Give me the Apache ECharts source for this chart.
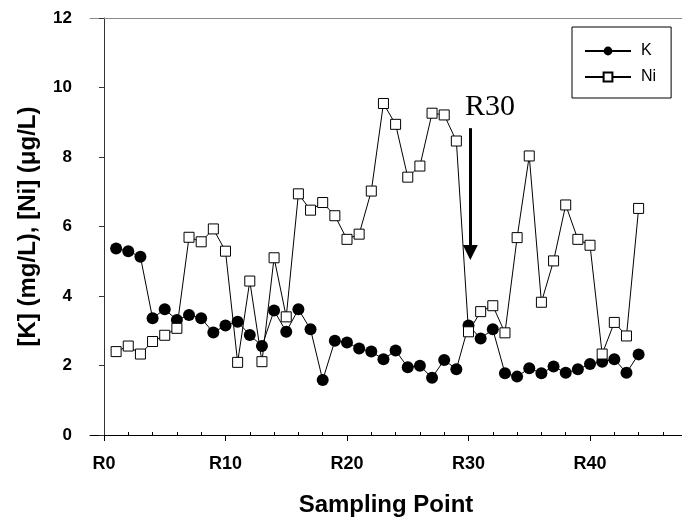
<!DOCTYPE html>
<html>
<head>
<meta charset="UTF-8">
<title>K and Ni by sampling point</title>
<script type="text/javascript" src="https://cdn.jsdelivr.net/npm/echarts@6/dist/echarts.min.js"></script>
<style type="text/css">
	html, body { margin: 0; padding: 0; background: #fff; }
	#chart { width: 682px; height: 517px; }
</style>
</head>
<body>
<div id="chart"></div>
<script type="text/javascript">
	// sampling points R1..R44
	var points = [1, 2, 3, 4, 5, 6, 7, 8, 9, 10, 11, 12, 13, 14, 15, 16, 17, 18, 19, 20, 21, 22,
		23, 24, 25, 26, 27, 28, 29, 30, 31, 32, 33, 34, 35, 36, 37, 38, 39, 40, 41, 42, 43, 44];
	// [K] mg/L
	var kValues = [5.37, 5.29, 5.13, 3.36, 3.62, 3.31, 3.45, 3.36, 2.95, 3.15, 3.26, 2.88, 2.56, 3.58, 2.97,
		3.62, 3.04, 1.58, 2.71, 2.66, 2.49, 2.40, 2.18, 2.43, 1.95, 1.99, 1.65, 2.16, 1.89, 3.15,
		2.78, 3.04, 1.78, 1.68, 1.92, 1.78, 1.97, 1.79, 1.89, 2.04, 2.11, 2.18, 1.79, 2.32];
	// [Ni] ug/L
	var niValues = [2.40, 2.56, 2.33, 2.69, 2.87, 3.07, 5.69, 5.56, 5.93, 5.29, 2.09, 4.43, 2.11, 5.10, 3.40,
		6.94, 6.47, 6.69, 6.31, 5.63, 5.78, 7.02, 9.54, 8.94, 7.42, 7.74, 9.26, 9.21, 8.46, 2.97,
		3.55, 3.72, 2.94, 5.68, 8.03, 3.82, 5.01, 6.62, 5.63, 5.46, 2.33, 3.24, 2.85, 6.52];
	var majorTicks = [0, 10, 20, 30, 40];
	var minorTicks = [2, 4, 6, 8, 12, 14, 16, 18, 22, 24, 26, 28, 32, 34, 36, 38, 42, 44, 46];
	var yTicks = [0, 2, 4, 6, 8, 10, 12];

	function pairs(xs, ys){
		var out = [];
		for(var i = 0; i < xs.length; i++){
			out.push([xs[i], ys[i]]);
		}
		return out;
	}

	var chart = echarts.init(document.getElementById('chart'));
	var option = {
		animation: false,
		backgroundColor: '#fff',
		textStyle: { fontFamily: 'Liberation Sans, Arial, sans-serif', color: '#000' },
		grid: { left: 90, right: 0, top: 18, bottom: 82, outerBoundsMode: 'none' },
		legend: {
			orient: 'vertical',
			left: 572,
			top: 27,
			padding: [16, 15, 13, 12],
			backgroundColor: '#fff',
			borderColor: '#000',
			borderWidth: 1,
			borderRadius: 0,
			itemWidth: 46,
			itemHeight: 11,
			itemGap: 10,
			textStyle: { fontSize: 16, color: '#000', padding: [0, 0, 0, 5] },
			data: ['K', 'Ni']
		},
		xAxis: [{
			type: 'value',
			min: -1.15,
			max: 47.57,
			position: 'bottom',
			name: 'Sampling Point',
			nameLocation: 'middle',
			nameGap: 58,
			nameTextStyle: { fontSize: 24, fontWeight: 'bold', color: '#000' },
			axisLine: { show: true, onZero: false, lineStyle: { color: '#000', width: 1 } },
			axisTick: { show: true, inside: false, length: 6, customValues: majorTicks, lineStyle: { color: '#000' } },
			axisLabel: {
				show: true, margin: 20, fontSize: 18, fontWeight: 'bold', color: '#000',
				customValues: majorTicks,
				formatter: function(v){ return 'R' + v; }
			},
			splitLine: { show: false }
		}, {
			type: 'value',
			min: -1.15,
			max: 47.57,
			position: 'bottom',
			axisLine: { show: false, onZero: false },
			axisTick: { show: true, inside: true, length: 3, customValues: minorTicks, lineStyle: { color: '#000' } },
			axisLabel: { show: false },
			splitLine: { show: false }
		}, {
			type: 'value',
			min: -1.15,
			max: 47.57,
			position: 'top',
			axisLine: { show: true, onZero: false, lineStyle: { color: '#8a8a8a', width: 1 } },
			axisTick: { show: false },
			axisLabel: { show: false },
			splitLine: { show: false }
		}],
		yAxis: {
			type: 'value',
			min: 0,
			max: 12,
			interval: 2,
			name: '[K] (mg/L), [Ni] (\u03bcg/L)',
			nameLocation: 'middle',
			nameGap: 50,
			nameTextStyle: { fontSize: 24, fontWeight: 'bold', color: '#000' },
			axisLine: { show: true, lineStyle: { color: '#333', width: 1 } },
			axisTick: { show: true, inside: false, length: 5, lineStyle: { color: '#333' } },
			axisLabel: { margin: 18, fontSize: 17, fontWeight: 'bold', color: '#000', customValues: yTicks },
			splitLine: { show: false }
		},
		series: [{
			name: 'K',
			type: 'line',
			xAxisIndex: 0,
			data: pairs(points, kValues),
			symbol: 'circle',
			symbolSize: 12,
			showAllSymbol: true,
			lineStyle: { color: '#000', width: 1 },
			itemStyle: { color: '#000', borderColor: '#000', borderWidth: 0 },
			emphasis: { disabled: true },
			z: 2
		}, {
			name: 'Ni',
			type: 'line',
			xAxisIndex: 0,
			data: pairs(points, niValues),
			symbol: 'rect',
			symbolSize: 10,
			showAllSymbol: true,
			lineStyle: { color: '#000', width: 1 },
			itemStyle: { color: '#fff', borderColor: '#000', borderWidth: 1 },
			emphasis: { disabled: true },
			z: 3,
			markLine: {
				silent: true,
				symbol: ['none', 'triangle'],
				symbolSize: [15, 15],
				lineStyle: { color: '#000', width: 3, type: 'solid' },
				label: { show: false },
				data: [[{ coord: [30.15, 8.83] }, { coord: [30.15, 5.25] }]]
			},
			markPoint: {
				silent: true,
				symbol: 'circle',
				symbolSize: 0,
				label: {
					show: true,
					position: 'inside',
					formatter: 'R30',
					fontFamily: 'Liberation Serif, Times New Roman, serif',
					fontSize: 30,
					color: '#000'
				},
				data: [{ coord: [31.77, 9.44] }]
			}
		}]
	};
	chart.setOption(option, true);
</script>
</body>
</html>
